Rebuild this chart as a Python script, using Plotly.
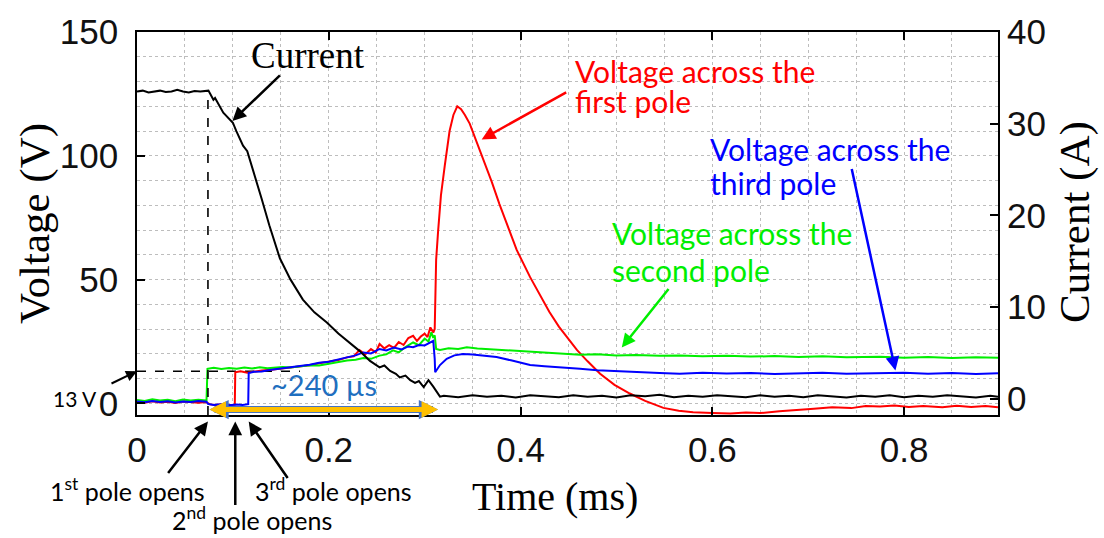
import plotly.graph_objects as go

# ---- measured traces: (time in ms, value) ----
current_pts = [
    (0, 33.5), (0.006, 33.6), (0.012, 33.4), (0.018, 33.5), (0.024, 33.6), (0.03, 33.45),
    (0.036, 33.5), (0.042, 33.7), (0.048, 33.5), (0.054, 33.4), (0.06, 33.55), (0.066, 33.5),
    (0.072, 33.6), (0.0745, 33.6), (0.0797, 32.6), (0.0814, 32.8), (0.09, 31.2), (0.1, 30.1),
    (0.1035, 29.2), (0.1106, 27.6), (0.115, 27.0), (0.121, 25.0), (0.13, 21.8), (0.138, 18.9),
    (0.1455, 16.4), (0.149, 15.3), (0.16, 13.0), (0.173, 10.8), (0.185, 9.4), (0.198, 8.3),
    (0.21, 7.1), (0.219, 6.3), (0.232, 5.2), (0.243, 4.1), (0.253, 3.4), (0.258, 3.6),
    (0.264, 3.0), (0.27, 2.7), (0.274, 2.3), (0.28, 2.5), (0.285, 2.0), (0.29, 1.7),
    (0.294, 1.9), (0.299, 1.25), (0.304, 2.0), (0.309, 1.3), (0.313, 0.6), (0.316, 0.2),
    (0.32, 0.3), (0.335, 0.15), (0.35, 0.35), (0.365, 0.2), (0.38, 0.3), (0.395, 0.1),
    (0.41, 0.35), (0.425, 0.25), (0.44, 0.15), (0.455, 0.35), (0.47, 0.2), (0.485, 0.3),
    (0.5, 0.1), (0.515, 0.35), (0.53, 0.25), (0.545, 0.4), (0.56, 0.15), (0.575, 0.3),
    (0.59, 0.2), (0.605, 0.35), (0.62, 0.25), (0.635, 0.15), (0.65, 0.35), (0.665, 0.2),
    (0.68, 0.3), (0.695, 0.15), (0.71, 0.35), (0.725, 0.25), (0.74, 0.1), (0.755, 0.3),
    (0.77, 0.2), (0.785, 0.35), (0.8, 0.15), (0.815, 0.3), (0.83, 0.2), (0.845, 0.35),
    (0.86, 0.25), (0.875, 0.1), (0.89, 0.3), (0.898, 0.2),
]

first_pole_pts = [
    (0, 0.6), (0.008, 0.3), (0.016, 0.9), (0.024, 0.4), (0.032, 0.7), (0.04, 0.2),
    (0.048, 0.8), (0.056, 0.5), (0.064, 0.3), (0.072, 0.6), (0.076, -0.4), (0.082, -0.6),
    (0.088, -0.3), (0.094, -0.7), (0.1, -0.4), (0.102, -0.5), (0.1025, 12.6), (0.108, 13.0),
    (0.115, 12.4), (0.122, 12.9), (0.13, 13.3), (0.14, 13.6), (0.15, 14.0), (0.16, 14.4),
    (0.17, 15.0), (0.18, 15.4), (0.19, 16.2), (0.2, 16.9), (0.21, 17.5), (0.219, 18.6),
    (0.226, 19.0), (0.232, 21.5), (0.238, 19.8), (0.244, 22.0), (0.249, 20.6), (0.253, 24.0),
    (0.258, 22.2), (0.263, 23.5), (0.268, 22.4), (0.273, 24.8), (0.278, 23.6), (0.283, 26.4),
    (0.288, 27.3), (0.292, 25.2), (0.296, 27.0), (0.3, 28.2), (0.303, 26.8), (0.306, 30.7),
    (0.309, 28.6), (0.3105, 30.0), (0.311, 45.0), (0.312, 58.0), (0.314, 69.3), (0.317, 84.0),
    (0.321, 96.0), (0.326, 110.0), (0.33, 116.5), (0.334, 120.0), (0.338, 118.8), (0.342, 116.5),
    (0.347, 113.0), (0.354, 106.0), (0.361, 98.7), (0.37, 89.5), (0.378, 80.5), (0.386, 72.0),
    (0.396, 62.0), (0.41, 51.0), (0.42, 44.0), (0.43, 37.0), (0.44, 31.0), (0.45, 26.0),
    (0.459, 21.5), (0.47, 17.0), (0.483, 12.0), (0.498, 7.5), (0.514, 4.0), (0.53, 1.0),
    (0.549, -1.8), (0.565, -3.0), (0.58, -3.6), (0.6, -3.9), (0.619, -4.1), (0.635, -3.7),
    (0.65, -3.9), (0.67, -3.2), (0.69, -2.8), (0.706, -2.2), (0.725, -1.6), (0.745, -1.9),
    (0.76, -1.0), (0.775, -1.2), (0.79, -0.8), (0.805, -1.4), (0.82, -1.0), (0.84, -1.5),
    (0.855, -0.9), (0.87, -1.4), (0.885, -1.0), (0.898, -1.5),
]

second_pole_pts = [
    (0, 1.4), (0.008, 1.0), (0.016, 1.7), (0.024, 1.2), (0.032, 1.5), (0.04, 0.9),
    (0.048, 1.6), (0.056, 1.2), (0.064, 1.5), (0.0725, 1.2), (0.0735, 14.0), (0.08, 14.4),
    (0.088, 13.9), (0.096, 14.3), (0.104, 14.0), (0.112, 14.5), (0.12, 14.1), (0.128, 14.6),
    (0.136, 14.2), (0.144, 14.4), (0.152, 14.7), (0.16, 14.5), (0.17, 15.0), (0.18, 15.4),
    (0.19, 15.3), (0.2, 16.0), (0.21, 16.5), (0.219, 17.3), (0.228, 17.6), (0.236, 18.3),
    (0.244, 18.0), (0.253, 19.3), (0.26, 19.8), (0.267, 21.4), (0.273, 20.6), (0.28, 22.8),
    (0.288, 24.6), (0.294, 23.5), (0.3, 26.2), (0.304, 25.0), (0.307, 28.7), (0.309, 26.5),
    (0.3105, 27.5), (0.312, 22.0), (0.316, 21.6), (0.325, 22.3), (0.335, 22.0), (0.344, 22.7),
    (0.355, 22.2), (0.368, 21.9), (0.38, 21.6), (0.392, 21.3), (0.405, 21.0), (0.42, 20.8),
    (0.435, 20.3), (0.45, 20.0), (0.462, 19.7), (0.48, 19.9), (0.5, 19.4), (0.52, 19.6),
    (0.545, 19.2), (0.566, 19.3), (0.59, 19.0), (0.615, 19.2), (0.64, 18.9), (0.665, 19.1),
    (0.69, 18.7), (0.715, 19.0), (0.74, 18.6), (0.775, 18.8), (0.8, 18.4), (0.825, 18.7),
    (0.85, 18.3), (0.875, 18.6), (0.898, 18.4),
]

third_pole_pts = [
    (0, 0.8), (0.008, 0.5), (0.016, 1.0), (0.024, 0.6), (0.032, 0.9), (0.04, 0.4),
    (0.048, 0.8), (0.056, 0.6), (0.064, 1.0), (0.0725, 0.7), (0.074, -0.2), (0.08, -0.6),
    (0.088, -0.3), (0.096, -0.7), (0.104, -0.4), (0.11, -0.6), (0.116, -0.3), (0.1165, 12.3),
    (0.122, 12.8), (0.13, 12.9), (0.14, 13.6), (0.15, 14.0), (0.16, 14.6), (0.17, 15.1),
    (0.18, 15.6), (0.19, 16.4), (0.2, 16.8), (0.21, 17.9), (0.219, 18.6), (0.228, 19.4),
    (0.236, 20.6), (0.244, 20.2), (0.253, 22.0), (0.26, 21.4), (0.268, 22.6), (0.276, 21.8),
    (0.283, 23.0), (0.288, 22.7), (0.294, 23.6), (0.3, 23.4), (0.305, 24.6), (0.309, 25.3),
    (0.3105, 18.0), (0.311, 12.6), (0.316, 15.5), (0.323, 18.0), (0.331, 19.4), (0.34, 20.0),
    (0.35, 19.8), (0.362, 19.3), (0.375, 18.7), (0.39, 17.4), (0.41, 15.5), (0.425, 15.0),
    (0.44, 14.7), (0.462, 14.0), (0.48, 13.4), (0.5, 13.0), (0.52, 12.5), (0.545, 12.3),
    (0.566, 12.0), (0.59, 12.4), (0.615, 12.1), (0.64, 12.3), (0.665, 11.9), (0.69, 12.2),
    (0.715, 12.4), (0.74, 12.0), (0.775, 12.2), (0.8, 12.4), (0.825, 12.0), (0.85, 12.3),
    (0.875, 11.9), (0.898, 12.2),
]

# pole opening instants (ms) and reference voltage level
pole_open_times = [0.074, 0.1025, 0.1165]
interruption_end = 0.314          # 0.074 + 0.240 ms
step_voltage = 13                 # V
knee_current = 33.5               # A

time_ticks = [0, 0.2, 0.4, 0.6, 0.8]
voltage_ticks = [0, 50, 100, 150]
current_ticks = [0, 10, 20, 30, 40]

X_RANGE = [0, 0.898]
V_RANGE = [-4.68, 150]
I_RANGE = [-1.8, 40]

W, H = 1104, 538
ML, MR, MT, MB = 137, 106, 28, 123
PW, PH = W - ML - MR, H - MT - MB


def px(x):
    return (x - ML) / PW


def py(y):
    return (H - MB - y) / PH


def unzip(pts):
    return [p[0] for p in pts], [p[1] for p in pts]


fig = go.Figure()

# guide lines
fig.add_trace(go.Scatter(x=[X_RANGE[0], 0.17], y=[step_voltage, step_voltage], mode="lines",
                         line=dict(color="black", width=1.6, dash="dash"), yaxis="y", hoverinfo="skip"))
fig.add_trace(go.Scatter(x=[pole_open_times[0]] * 2, y=[I_RANGE[0], knee_current - 0.4], mode="lines",
                         line=dict(color="black", width=1.6, dash="dash"), yaxis="y2", hoverinfo="skip"))

for pts, color, axis in [
    (first_pole_pts, "#ff0000", "y"),
    (second_pole_pts, "#00ee00", "y"),
    (third_pole_pts, "#0000ff", "y"),
    (current_pts, "#000000", "y2"),
]:
    t, v = unzip(pts)
    fig.add_trace(go.Scatter(x=t, y=v, mode="lines", line=dict(color=color, width=2),
                             yaxis=axis, hoverinfo="skip"))

grid = dict(showgrid=True, gridcolor="#bdbdbd", griddash="dot", gridwidth=1)
tickfont = dict(family="Liberation Sans, Arial, sans-serif", size=35, color="#111111")

fig.update_layout(
    width=W, height=H, margin=dict(l=ML, r=MR, t=MT, b=MB),
    paper_bgcolor="white", plot_bgcolor="white", showlegend=False,
    xaxis=dict(range=X_RANGE, tickvals=time_ticks, ticktext=["0", "0.2", "0.4", "0.6", "0.8"],
               ticks="inside", ticklen=8, tickwidth=1.5, tickcolor="black",
               showline=True, linecolor="black", linewidth=1.5, mirror="ticks",
               zeroline=False, tickfont=tickfont, ticklabelstandoff=3,
               minor=dict(dtick=0.05, tick0=0, ticks="", **grid), **grid),
    yaxis=dict(range=V_RANGE, tickvals=voltage_ticks, ticks="inside", ticklen=8, tickwidth=1.5,
               tickcolor="black", showline=True, linecolor="black", linewidth=1.5, mirror=True,
               zeroline=False, tickfont=tickfont, ticklabelstandoff=10,
               minor=dict(dtick=10, tick0=0, ticks="", **grid), **grid),
    yaxis2=dict(range=I_RANGE, tickvals=current_ticks, overlaying="y", side="right",
                ticks="inside", ticklen=8, tickwidth=1.5, tickcolor="black",
                showgrid=False, zeroline=False, showline=False, tickfont=tickfont,
                ticklabelstandoff=8),
)

serif = "Liberation Serif, Times New Roman, serif"
sans = "Lato, Open Sans, sans-serif"
ann = []


def text(s, x, y, size, color="black", family=sans, xanchor="center", angle=0):
    ann.append(dict(text=s, x=px(x), y=py(y), xref="paper", yref="paper", showarrow=False,
                    xanchor=xanchor, yanchor="middle", textangle=angle,
                    font=dict(family=family, size=size, color=color)))


def arrow(x, y, ax, ay, color, xref="x", yref="y", width=2.5):
    ann.append(dict(text="", x=x, y=y, xref=xref, yref=yref, ax=ax, ay=ay,
                    axref="pixel", ayref="pixel", showarrow=True, arrowhead=2,
                    arrowsize=1.1, arrowwidth=width, arrowcolor=color))


# axis titles
text("Voltage (V)", 35, 222, 43, family=serif, angle=-90)
text("Current (A)", 1075, 220, 43, family=serif, angle=-90)
text("Time (ms)", 555, 497, 40, family=serif)

# trace labels
text("Current", 308, 52, 37, family=serif)
arrow(0.0995, 30.3, 49, -47, "black", yref="y2")

text("Voltage across the", 573, 67, 30, "#ff0000", xanchor="left")
text("first pole", 573, 98, 30, "#ff0000", xanchor="left")
arrow(0.3595, 106.6, 86, -48, "#ff0000")

text("Voltage across the", 708, 146, 30, "#0000ff", xanchor="left")
text("third pole", 708, 181, 30, "#0000ff", xanchor="left")
arrow(0.791, 13.3, -44, -203, "#0000ff")

text("Voltage across the", 610, 231, 30, "#00ee00", xanchor="left")
text("second pole", 610, 268, 30, "#00ee00", xanchor="left")
arrow(0.5056, 22.6, 48, -60, "#00ee00")

# 13 V marker
text("13 V", 75, 398, 21)
arrow(X_RANGE[0], step_voltage, -27, 13, "black", width=2)

# 240 us interval arrow (thin blue rim under an orange core)
for col, w, size in [("#4472c4", 7, 0.55), ("#ffc000", 5, 0.66)]:
    ann.append(dict(text="", x=interruption_end, y=-2.5, ax=pole_open_times[0], ay=-2.5,
                    xref="x", yref="y", axref="x", ayref="y", showarrow=True,
                    arrowhead=2, arrowside="end+start", arrowsize=size,
                    arrowwidth=w, arrowcolor=col))
text("~240 µs", 324, 384, 29, "#1f6fbf")

# pole opening labels below the axis
arrow(pole_open_times[0], -0.017, -41, 53, "black", yref="paper")
arrow(pole_open_times[1], -0.017, 0, 85, "black", yref="paper")
arrow(pole_open_times[2], -0.017, 40, 58, "black", yref="paper")
text("1<sup>st</sup> pole opens", 127, 490, 25)
text("2<sup>nd</sup> pole opens", 252, 520, 25)
text("3<sup>rd</sup> pole opens", 333, 490, 25)

fig.update_layout(annotations=ann)
fig.write_html("out.html")
